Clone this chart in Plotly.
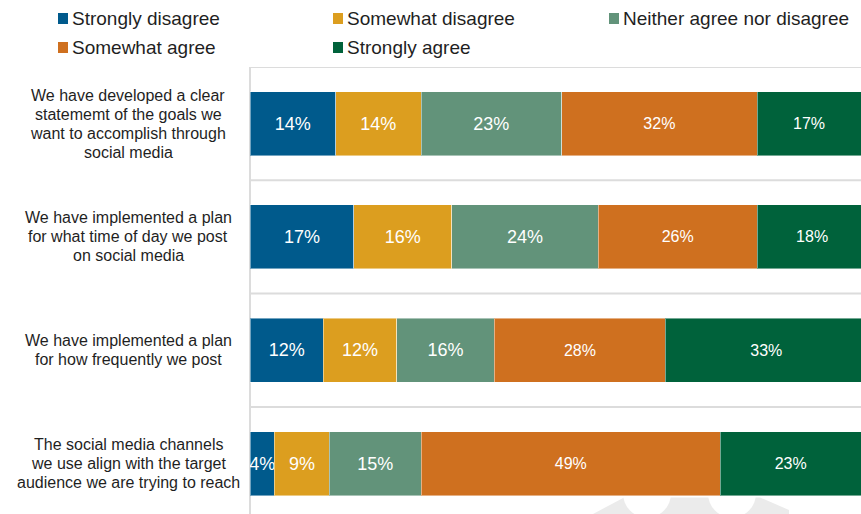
import plotly.graph_objects as go

# Survey statements (top to bottom) and response shares in percent
statements = [
    "We have developed a clear<br>statememt of the goals we<br>want to accomplish through<br>social media",
    "We have implemented a plan<br>for what time of day we post<br>on social media",
    "We have implemented a plan<br>for how frequently we post",
    "The social media channels<br>we use align with the target<br>audience we are trying to reach",
]
responses = [
    "Strongly disagree",
    "Somewhat disagree",
    "Neither agree nor disagree",
    "Somewhat agree",
    "Strongly agree",
]
strongly_disagree = [14, 17, 12, 4]
somewhat_disagree = [14, 16, 12, 9]
neither = [23, 24, 16, 15]
somewhat_agree = [32, 26, 28, 49]
strongly_agree = [17, 18, 33, 23]

series = [strongly_disagree, somewhat_disagree, neither, somewhat_agree, strongly_agree]
colors = ["#005a8c", "#dc9e1f", "#62937a", "#cf701f", "#00623b"]
label_sizes = [18, 18, 18, 16, 16]

FONT = "Liberation Sans, Arial, sans-serif"
TEXT_COLOR = "#1f1f1f"

W, H = 861, 514
L, T = 250, 67
plot_w, plot_h = W - L, H - T
band_px = 113.3  # height of one statement row

keys = list(range(len(statements)))

fig = go.Figure()
for name, vals, col, fs in zip(responses, series, colors, label_sizes):
    fig.add_trace(go.Bar(
        y=keys,
        x=vals,
        name=name,
        orientation="h",
        marker=dict(color=col, line=dict(color="rgba(255,255,255,0.45)", width=1)),
        text=[f"{v}%" for v in vals],
        textposition="inside",
        insidetextanchor="middle",
        textangle=0,
        constraintext="none",
        textfont=dict(color="white", size=fs, family=FONT),
        hoverinfo="skip",
        showlegend=False,
    ))


def px(xp):
    return (xp - L) / plot_w


def py(yp):
    return (H - yp) / plot_h


# Row separators and left frame line
band_edges = [k - 0.5 for k in keys] + [keys[-1] + 0.5]
shapes = []
for e in band_edges:
    shapes.append(dict(type="line", xref="paper", yref="y", x0=0, x1=1, y0=e, y1=e,
                       line=dict(color="#dcdcdc", width=2), layer="below"))
shapes.append(dict(type="line", xref="paper", yref="paper", x0=0, x1=0, y0=0, y1=1,
                   line=dict(color="#dcdcdc", width=2), layer="below"))

# Faint logo mark behind the last row
logo = "M {} {} L {} {} L {} {} L {} {} L {} {} Z".format(
    px(593), py(514), px(624), py(497.5), px(760), py(497.5), px(789), py(510), px(789), py(514))
shapes.append(dict(type="path", xref="paper", yref="paper", path=logo,
                   fillcolor="#ebebeb", line=dict(width=0), layer="below"))
for cx in (647, 732):
    shapes.append(dict(type="circle", xref="paper", yref="paper",
                       x0=px(cx - 24), x1=px(cx + 24), y0=py(493.5 + 24), y1=py(493.5 - 24),
                       fillcolor="white", line=dict(width=0), layer="below"))

annotations = []

# Statement labels, centred, one annotation per line for tight line spacing
line_step = 19
for k, s in zip(keys, statements):
    lines = s.split("<br>")
    n = len(lines)
    for i, ln in enumerate(lines):
        annotations.append(dict(
            x=px(128), xref="paper", y=k, yref="y", text=ln, showarrow=False,
            xanchor="center", yanchor="middle", align="center",
            yshift=((n - 1) / 2 - i) * line_step,
            font=dict(size=16, color=TEXT_COLOR, family=FONT),
        ))

# Legend built from squares and labels in two rows
legend_slots = [(58, 18.5), (333, 18.5), (609, 18.5), (58, 47.5), (333, 47.5)]
for name, col, (lx, ly) in zip(responses, colors, legend_slots):
    shapes.append(dict(type="rect", xref="paper", yref="paper",
                       x0=px(lx), x1=px(lx + 10), y0=py(ly + 5.5), y1=py(ly - 5.5),
                       fillcolor=col, line=dict(width=0)))
    annotations.append(dict(
        x=px(lx + 12), xref="paper", y=py(ly), yref="paper", text=name, showarrow=False,
        xanchor="left", yanchor="middle",
        font=dict(size=19, color=TEXT_COLOR, family=FONT),
    ))

visible_bands = plot_h / band_px

fig.update_layout(
    width=W, height=H,
    barmode="stack",
    bargap=0.435,
    margin=dict(l=L, r=0, t=T, b=0),
    paper_bgcolor="white",
    plot_bgcolor="white",
    font=dict(family=FONT, color=TEXT_COLOR),
    xaxis=dict(range=[0, 100], visible=False, fixedrange=True),
    yaxis=dict(range=[-0.5 + visible_bands, -0.5],
               showticklabels=False, showgrid=False, zeroline=False, fixedrange=True),
    showlegend=False,
    shapes=shapes,
    annotations=annotations,
)

fig.write_html("out.html")
